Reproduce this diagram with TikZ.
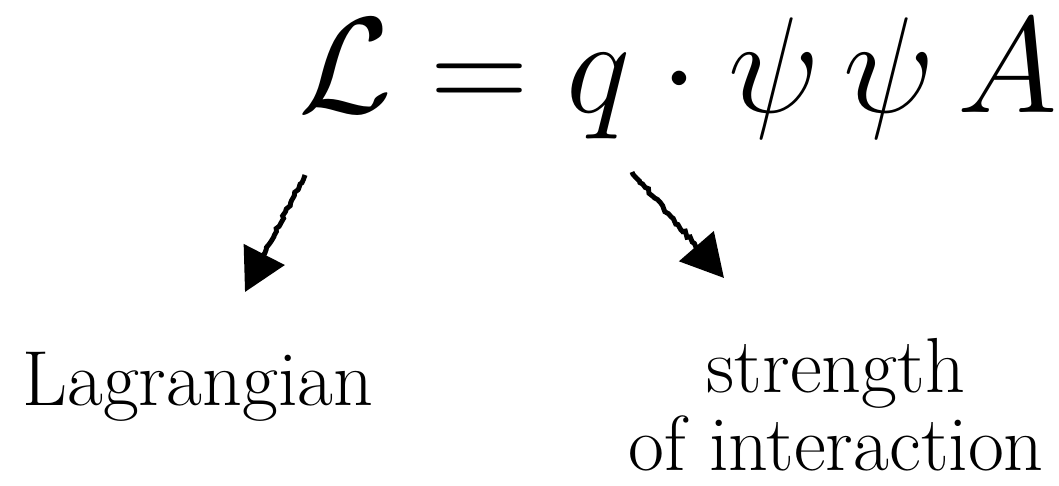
\RequirePackage{fix-cm}
\documentclass[tikz,border=0pt]{standalone}
\usetikzlibrary{arrows.meta,decorations.pathmorphing}

\tikzset{
  pencil/.style={line width=3.5pt, decorate,
    decoration={random steps, segment length=2.5pt, amplitude=1.1pt, post length=14pt},
    -{Triangle[length=30pt,width=32pt]}},
  lbl/.style={inner sep=0pt, font=\fontsize{55.5}{55}\selectfont}
}

\begin{document}
\begin{tikzpicture}[x=0.025cm,y=-0.025cm]
    \useasboundingbox (0,0) rectangle (1059,486);

    \node[anchor=base west,inner sep=0pt] (eq) at (298,113)
        {\fontsize{97}{110}\selectfont$\mathcal{L} = q \cdot \psi\,\psi\,A$};

    \node[lbl,anchor=base west] (lag) at (22,405) {Lagrangian};
    \node[lbl,align=center,anchor=base] (str) at (836,470) {strength\\of interaction};

    \coordinate (lagtail) at (305,175);
    \coordinate (lagtip) at (245,292);
    \coordinate (strtail) at (632,172);
    \coordinate (strtip) at (724,278);

    \draw[pencil] (lagtail) -- (lagtip);
    \draw[pencil] (strtail) -- (strtip);
\end{tikzpicture}
\end{document}
